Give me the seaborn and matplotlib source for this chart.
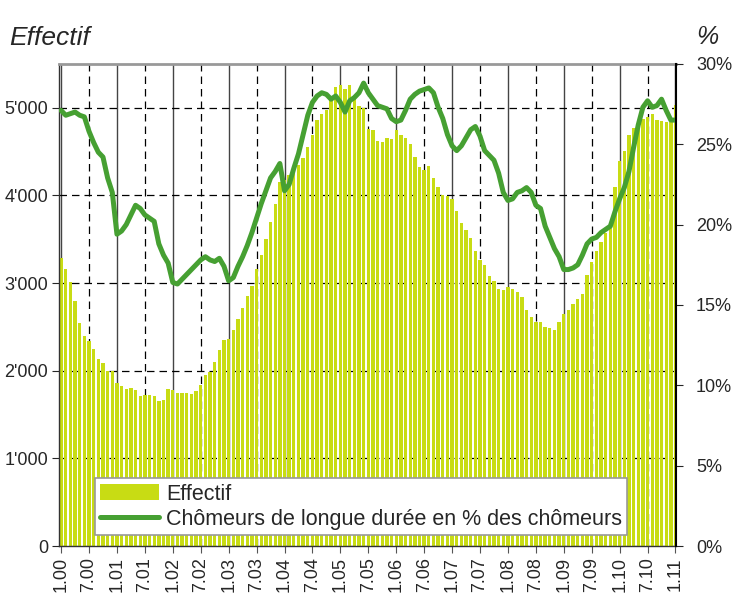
import matplotlib
matplotlib.use("Agg")
from matplotlib import pyplot as plt
from matplotlib.patches import Patch
from matplotlib.lines import Line2D
import pandas as pd
import seaborn as sns

# monthly data, Jan 2000 .. Jan 2011
effectif = [3290, 3165, 3015, 2800, 2545, 2400, 2340, 2250, 2135, 2090, 1995, 2000,
            1860, 1825, 1790, 1800, 1780, 1715, 1725, 1720, 1715, 1655, 1670, 1790,
            1780, 1750, 1750, 1750, 1735, 1765, 1840, 1955, 1990, 2100, 2240, 2355,
            2365, 2465, 2590, 2720, 2855, 2970, 3165, 3325, 3505, 3700, 3905, 4155,
            4180, 4230, 4265, 4350, 4430, 4555, 4685, 4855, 4925, 4975, 5085, 5230,
            5255, 5210, 5255, 5135, 5020, 5000, 4760, 4745, 4625, 4605, 4655, 4640,
            4740, 4685, 4655, 4580, 4440, 4320, 4285, 4330, 4200, 4095, 4000, 3990,
            3960, 3825, 3685, 3610, 3515, 3370, 3260, 3210, 3085, 3025, 2930, 2915,
            2960, 2935, 2900, 2835, 2695, 2610, 2555, 2555, 2500, 2485, 2460, 2560,
            2650, 2690, 2760, 2820, 2875, 3095, 3235, 3370, 3465, 3570, 3650, 4095,
            4390, 4510, 4685, 4770, 4830, 4875, 4895, 4925, 4855, 4845, 4835, 4840,
            5025]
longue_duree = [27.1, 26.8, 26.9, 27.0, 26.8, 26.7, 25.8, 25.1, 24.5, 24.2, 22.9, 22.0,
                19.4, 19.6, 20.0, 20.6, 21.2, 21.0, 20.6, 20.4, 20.2, 18.8, 18.1, 17.6,
                16.4, 16.3, 16.6, 16.9, 17.2, 17.5, 17.8, 18.0, 17.8, 17.7, 17.9, 17.4,
                16.5, 16.7, 17.4, 18.0, 18.7, 19.5, 20.4, 21.3, 22.1, 22.9, 23.3, 23.8,
                22.1, 22.5, 23.5, 24.4, 25.6, 26.8, 27.6, 28.0, 28.2, 28.1, 27.8, 28.0,
                27.6, 27.0, 27.7, 27.9, 28.2, 28.8, 28.2, 27.8, 27.4, 27.3, 27.2, 26.6,
                26.4, 26.5, 27.1, 27.8, 28.1, 28.3, 28.4, 28.5, 28.2, 27.3, 26.6, 25.6,
                24.9, 24.6, 24.9, 25.4, 25.9, 26.1, 25.5, 24.6, 24.3, 24.0, 23.2, 22.0,
                21.5, 21.6, 22.0, 22.1, 22.3, 22.0, 21.2, 21.0, 19.9, 19.2, 18.5, 18.0,
                17.2, 17.2, 17.3, 17.5, 18.1, 18.8, 19.1, 19.2, 19.5, 19.7, 19.9, 20.8,
                21.6, 22.3, 23.3, 24.8, 26.2, 27.3, 27.7, 27.3, 27.4, 27.8, 27.1, 26.5,
                26.5]
jan_labels = ["1.%02d" % y for y in range(0, 12)]
jul_labels = ["7.%02d" % y for y in range(0, 11)]
left_ticks = [0, 1000, 2000, 3000, 4000, 5000]
left_labels = ["0", "1'000", "2'000", "3'000", "4'000", "5'000"]
right_ticks = [0, 5, 10, 15, 20, 25, 30]

df = pd.DataFrame({"mois": range(len(effectif)), "effectif": effectif,
                   "pct": longue_duree})

sns.set_style("white")
plt.rcParams["font.family"] = ["Liberation Sans", "DejaVu Sans"]

bar_col = "#c8dc14"
line_col = "#46a032"

fig = plt.figure(figsize=(7.43, 6.05), dpi=100)
ax = fig.add_axes([0.0794, 0.0975, 0.831, 0.797])

sns.barplot(data=df, x="mois", y="effectif", color=bar_col, saturation=1,
            width=0.72, linewidth=0, ax=ax, zorder=2)
ax.set_xlim(-0.45, 132.2)
ax.set_ylim(0, 5500)
ax.set_xlabel("")
ax.set_ylabel("")

ax.set_xticks(range(0, 133, 12), labels=jan_labels)
ax.set_xticks(range(6, 133, 12), labels=jul_labels, minor=True)
ax.tick_params(axis="x", which="both", rotation=90, labelsize=13, length=5,
               width=0.8, color="#555555", direction="out", bottom=True, pad=3)
ax.set_yticks(left_ticks, labels=left_labels)
ax.tick_params(axis="y", labelsize=13, length=5, width=0.8, left=True, pad=3)

ax.set_axisbelow(True)
ax.grid(axis="x", which="major", color="#444444", lw=1.0, ls="-", zorder=0)
ax.grid(axis="x", which="minor", color="black", lw=0.9, ls=(0, (6, 4)), zorder=0)
ax.grid(axis="y", which="major", color="black", lw=0.9, ls=(0, (6, 4)), zorder=0)

for s in ["left", "bottom"]:
    ax.spines[s].set_color("#333333")
    ax.spines[s].set_linewidth(1.0)
ax.spines["top"].set_color("#999999")
ax.spines["top"].set_linewidth(2)
ax.spines["right"].set_visible(False)

ax2 = ax.twinx()
sns.lineplot(data=df, x="mois", y="pct", color=line_col, lw=3.6, ax=ax2)
ax2.set_ylim(0, 30)
ax2.set_xlim(ax.get_xlim())
ax2.set_ylabel("")
ax2.set_yticks(right_ticks, labels=["%d%%" % t for t in right_ticks])
ax2.tick_params(axis="y", labelsize=13, length=5, width=0.8, right=True, pad=9)
for s in ["left", "bottom", "top"]:
    ax2.spines[s].set_visible(False)
ax2.spines["right"].set_color("black")
ax2.spines["right"].set_linewidth(1.5)

handles = [Patch(facecolor=bar_col, edgecolor="none"),
           Line2D([], [], color=line_col, lw=3.6)]
leg = ax2.legend(handles, ["Effectif", "Chômeurs de longue durée en % des chômeurs"],
                 loc="lower left", bbox_to_anchor=(0.058, 0.022), fontsize=15.5,
                 frameon=True, fancybox=False, framealpha=1, edgecolor="#999999",
                 handlelength=2.75, handleheight=0.8, handletextpad=0.3,
                 borderpad=0.25, labelspacing=0.2, borderaxespad=0)
leg.get_frame().set_linewidth(1.2)

fig.text(0.013, 0.925, "Effectif", fontsize=19, style="italic", ha="left")
fig.text(0.937, 0.928, "%", fontsize=18, style="italic", ha="left")

fig.savefig("out.png", dpi=100)
